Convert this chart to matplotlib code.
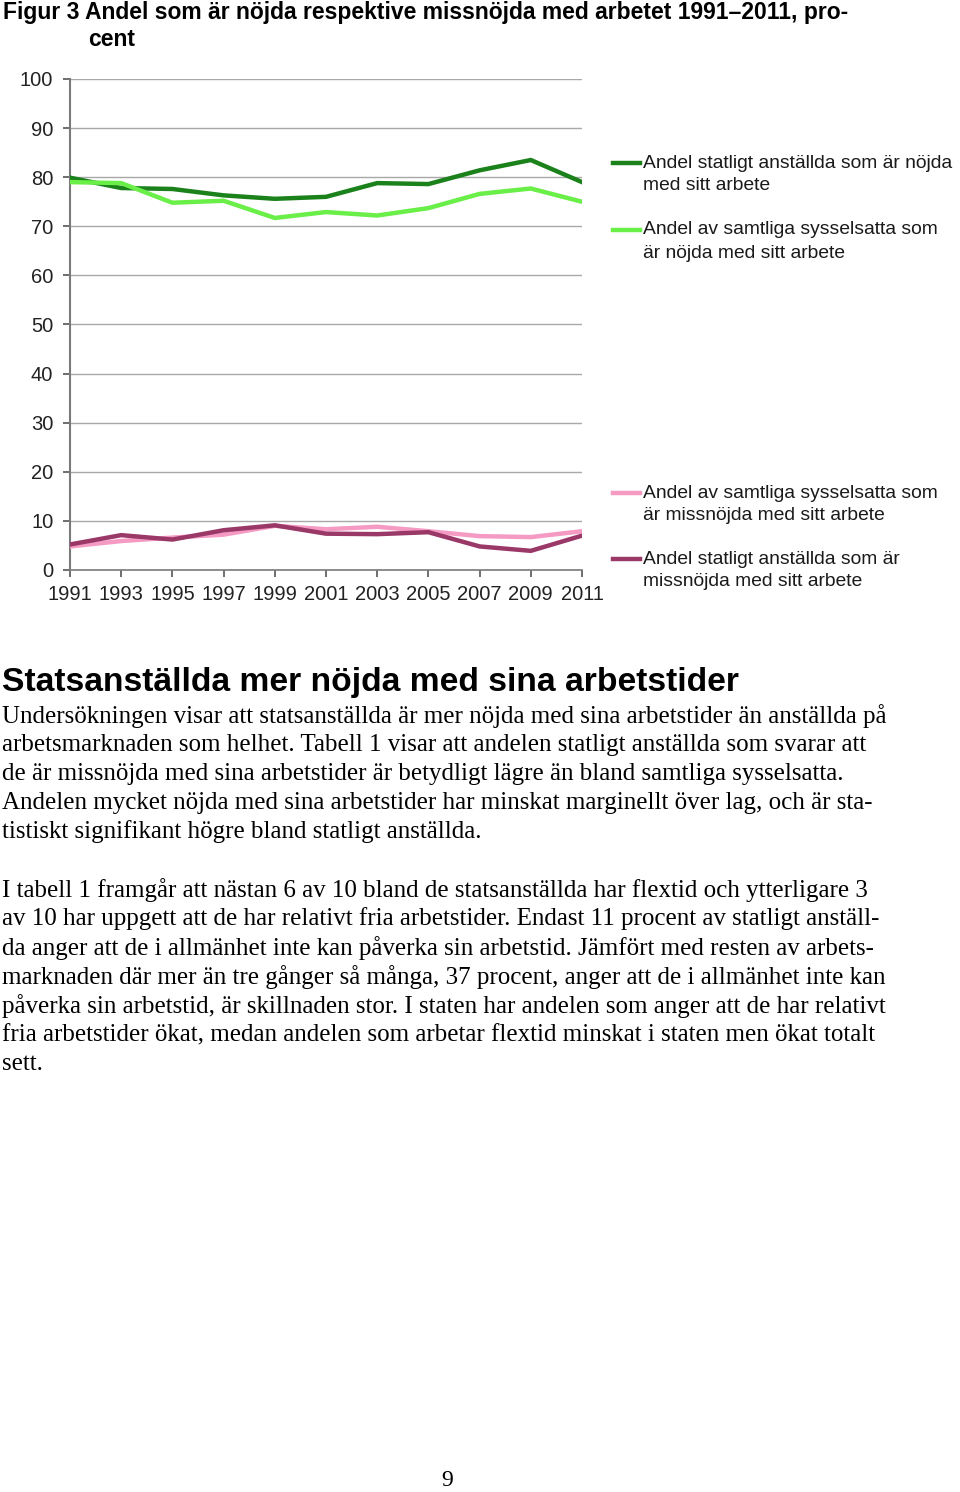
import matplotlib
matplotlib.use("Agg")
import matplotlib.pyplot as plt
from matplotlib.lines import Line2D

years = [1991, 1993, 1995, 1997, 1999, 2001, 2003, 2005, 2007, 2009, 2011]
stat_nojda = [79.9, 77.8, 77.6, 76.3, 75.6, 76.0, 78.8, 78.6, 81.4, 83.5, 79.0]
alla_nojda = [79.0, 78.8, 74.8, 75.2, 71.7, 72.9, 72.2, 73.7, 76.6, 77.7, 75.0]
alla_missnojda = [4.8, 5.9, 6.6, 7.2, 9.0, 8.3, 8.8, 7.9, 6.9, 6.7, 7.9]
stat_missnojda = [5.2, 7.1, 6.2, 8.1, 9.1, 7.4, 7.3, 7.7, 4.8, 3.9, 7.0]
yticks = [0, 10, 20, 30, 40, 50, 60, 70, 80, 90, 100]

series_names = [
    "Andel statligt anställda som är nöjda\nmed sitt arbete",
    "Andel av samtliga sysselsatta som\när nöjda med sitt arbete",
    "Andel av samtliga sysselsatta som\när missnöjda med sitt arbete",
    "Andel statligt anställda som är\nmissnöjda med sitt arbete",
]
series_values = [stat_nojda, alla_nojda, alla_missnojda, stat_missnojda]
series_colors = ["#1b821b", "#6aee48", "#f59ac3", "#9a3868"]
legend_y = [163, 230, 493, 559]

title_lines = ["Figur 3 Andel som är nöjda respektive missnöjda med arbetet 1991\u20132011, pro-", "cent"]
heading = "Statsanställda mer nöjda med sina arbetstider"
para1 = [
    "Undersökningen visar att statsanställda är mer nöjda med sina arbetstider än anställda på",
    "arbetsmarknaden som helhet. Tabell 1 visar att andelen statligt anställda som svarar att",
    "de är missnöjda med sina arbetstider är betydligt lägre än bland samtliga sysselsatta.",
    "Andelen mycket nöjda med sina arbetstider har minskat marginellt över lag, och är sta-",
    "tistiskt signifikant högre bland statligt anställda.",
]
para2 = [
    "I tabell 1 framgår att nästan 6 av 10 bland de statsanställda har flextid och ytterligare 3",
    "av 10 har uppgett att de har relativt fria arbetstider. Endast 11 procent av statligt anställ-",
    "da anger att de i allmänhet inte kan påverka sin arbetstid. Jämfört med resten av arbets-",
    "marknaden där mer än tre gånger så många, 37 procent, anger att de i allmänhet inte kan",
    "påverka sin arbetstid, är skillnaden stor. I staten har andelen som anger att de har relativt",
    "fria arbetstider ökat, medan andelen som arbetar flextid minskat i staten men ökat totalt",
    "sett.",
]
page_number = "9"

W, H = 960, 1492
fig = plt.figure(figsize=(W / 100, H / 100), dpi=100)
fig.patch.set_facecolor("white")

def fx(x):
    return x / W

def fy(y):
    return 1 - y / H

# Axes: left 70, right 582, top 79, bottom 570 (px)
ax = fig.add_axes([fx(70), fy(570), fx(582) - fx(70), (570 - 79) / H])
for vals, col in zip(series_values, series_colors):
    ax.plot(years, vals, color=col, lw=3.2, solid_joinstyle="miter", zorder=3)

ax.set_xlim(1991, 2011)
ax.set_ylim(0, 100)
ax.set_yticks(yticks)
ax.set_xticks(years)
ax.set_xticklabels([str(y) for y in years])
ax.grid(axis="y", color="#a8a8a8", lw=1.0)
ax.grid(axis="x", visible=False)
ax.set_axisbelow(True)
for s in ["top", "right"]:
    ax.spines[s].set_visible(False)
ax.spines["left"].set_color("#7a7a7a")
ax.spines["left"].set_linewidth(1.5)
ax.spines["bottom"].set_color("#7a7a7a")
ax.spines["bottom"].set_linewidth(1.2)
ax.tick_params(axis="y", direction="out", length=5, width=1.2, color="#555555",
               labelsize=14.5, pad=7, labelcolor="#222222")
ax.tick_params(axis="x", direction="out", length=5, width=1.2, color="#555555",
               labelsize=14.5, pad=6, labelcolor="#222222")
for lab in ax.get_xticklabels() + ax.get_yticklabels():
    lab.set_fontfamily("Liberation Sans")

# Legend (manual, to the right)
for name, col, ly in zip(series_names, series_colors, legend_y):
    fig.add_artist(Line2D([fx(613), fx(640)], [fy(ly), fy(ly)], color=col, lw=3.2,
                          transform=fig.transFigure))
    for i, line in enumerate(name.split("\n")):
        fig.text(fx(643), fy(ly + i * 23), line, fontsize=13.9, family="Liberation Sans",
                 color="#1a1a1a", va="center", ha="left")

# Title
fig.text(fx(3), fy(12), title_lines[0], fontsize=16.5, fontweight="bold",
         family="Liberation Sans", va="center", ha="left")
fig.text(fx(88), fy(39), title_lines[1], fontsize=16.5, fontweight="bold",
         family="Liberation Sans", va="center", ha="left")

# Heading
fig.text(fx(2), fy(683), heading, fontsize=24.2, fontweight="bold",
         family="Liberation Sans", va="center", ha="left")

# Body text
for i, line in enumerate(para1):
    fig.text(fx(2), fy(716 + i * 29), line, fontsize=18, family="Liberation Serif",
             va="center", ha="left")
for i, line in enumerate(para2):
    fig.text(fx(2), fy(890 + i * 29), line, fontsize=18, family="Liberation Serif",
             va="center", ha="left")

fig.text(fx(447), fy(1480), page_number, fontsize=17, family="Liberation Serif",
         va="center", ha="center")

fig.savefig("out.png", dpi=100, facecolor="white")
